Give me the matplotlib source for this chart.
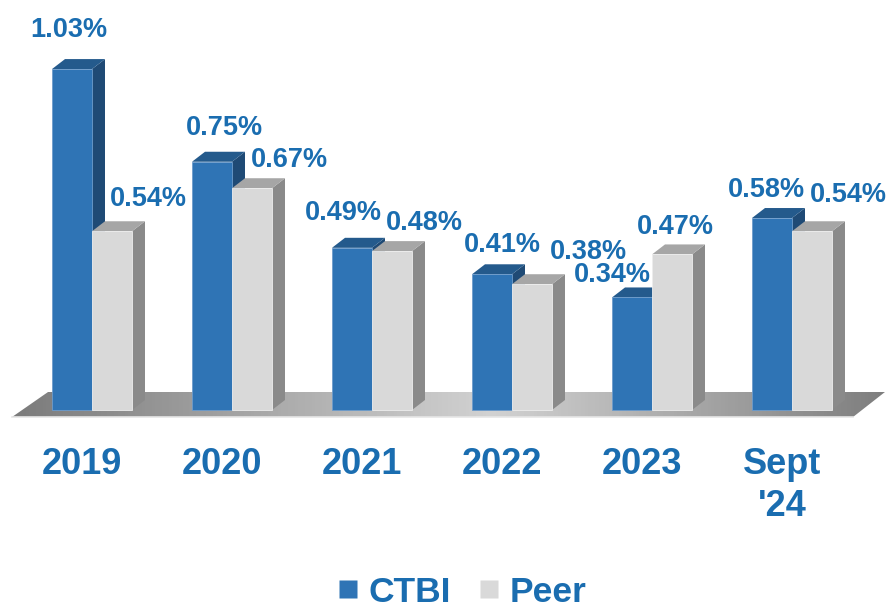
import matplotlib
matplotlib.use('Agg')
import matplotlib.pyplot as plt
import numpy as np
from matplotlib.patches import Polygon
from matplotlib.lines import Line2D
from matplotlib.colors import LinearSegmentedColormap

# ---------------- data ----------------
categories = ['2019', '2020', '2021', '2022', '2023', "Sept\n'24"]
ctbi = [1.03, 0.75, 0.49, 0.41, 0.34, 0.58]
peer = [0.54, 0.67, 0.48, 0.38, 0.47, 0.54]
series_names = ['CTBI', 'Peer']

# label nudges in pixels (dx, up) relative to top-back centre of each bar
ctbi_nudge = [(-10, 22), (6, 17), (-15, 18), (4, 12), (-26, 5), (-12, 11)]
peer_nudge = [(30, 15), (31, 11), (26, 11), (50, 15), (-3, 10), (30, 19)]

# ---------------- style ----------------
TXT = '#1A6DB0'
FONT = 'Liberation Sans'
ctbi_cols = dict(front='#2F74B5', top='#245A8C', side='#1F4A75', edge='#6E9CCB')
peer_cols = dict(front='#D9D9D9', top='#A6A6A6', side='#8A8A8A', edge='#EDEDED')

W, H, DPI = 893, 613, 100
fig = plt.figure(figsize=(W / DPI, H / DPI), dpi=DPI)
ax = fig.add_axes([0, 0, 1, 1])

# pixel geometry -> data scale
px_per_x = 140.0     # pixels per category step
px_per_y = 331.0     # pixels per 1.0 value
x0_px = 92.0         # pixel position of category 0 centre
base_px = 410.0      # pixel row (from top) of value 0
xlim = (-x0_px / px_per_x, (W - x0_px) / px_per_x)
ylim = (-(H - base_px) / px_per_y, base_px / px_per_y)

bw = 40 / px_per_x       # bar width
ddx = 13 / px_per_x      # depth offset x
ddy = 10 / px_per_y      # depth offset y

n = len(categories)
xs = np.arange(n)

# ---------------- floor ----------------
fy_front = -7 / px_per_y
fy_back = 18 / px_per_y
floor_pts = [(-0.571, fy_front), (n - 1 + 0.436, fy_front),
             (n - 1 + 0.664, fy_back), (-0.314, fy_back)]
floor = Polygon(floor_pts, closed=True, facecolor='none', edgecolor='none')
ax.add_patch(floor)
cmap = LinearSegmentedColormap.from_list(
    'floor', [(0, '#7B7B7B'), (0.55, '#D2D2D2'), (1, '#7E7E7E')])
grad = np.linspace(0, 1, 256).reshape(1, -1)
im = ax.imshow(grad, cmap=cmap, aspect='auto',
               extent=(-0.571, n - 1 + 0.664, fy_front, fy_back),
               origin='lower', zorder=1)
im.set_clip_path(floor)
ax.plot([-0.571, n - 1 + 0.436], [fy_front, fy_front], color='#E6E6E6', lw=1.2, zorder=1.5)


def draw_bar(x, h, cols, z):
    side = Polygon([(x + bw, 0), (x + bw + ddx, ddy), (x + bw + ddx, h + ddy), (x + bw, h)],
                   closed=True, facecolor=cols['side'], edgecolor='none', zorder=z)
    top = Polygon([(x, h), (x + bw, h), (x + bw + ddx, h + ddy), (x + ddx, h + ddy)],
                  closed=True, facecolor=cols['top'], edgecolor='none', zorder=z + 0.1)
    ax.add_patch(side)
    ax.add_patch(top)
    ax.bar(x, h, width=bw, align='edge', color=cols['front'],
           edgecolor=cols['edge'], linewidth=0.6, zorder=z + 0.2)


for i in range(n):
    z = 2 + i
    draw_bar(xs[i] - bw, ctbi[i], ctbi_cols, z)
    draw_bar(xs[i], peer[i], peer_cols, z + 0.5)

# ---------------- value labels ----------------
for i in range(n):
    for vals, nudges, xoff in ((ctbi, ctbi_nudge, -bw), (peer, peer_nudge, 0)):
        v = vals[i]
        ax.annotate(f'{v:.2f}%', xy=(xs[i] + xoff + bw / 2 + ddx / 2, v + ddy),
                    xytext=nudges[i], textcoords='offset pixels',
                    ha='center', va='baseline', fontsize=19.5, fontweight='bold',
                    color=TXT, family=FONT, zorder=20)

# ---------------- category labels ----------------
for i, c in enumerate(categories):
    ax.text(xs[i] - 10 / px_per_x, -37 / px_per_y, c, ha='center', va='top',
            fontsize=26, fontweight='bold', color=TXT, family=FONT,
            linespacing=1.25, multialignment='center')

ax.set_xlim(*xlim)
ax.set_ylim(*ylim)
ax.axis('off')

# ---------------- legend ----------------
handles = [Line2D([0], [0], marker='s', linestyle='none', markersize=13.5,
                  markerfacecolor=ctbi_cols['front'], markeredgecolor='none'),
           Line2D([0], [0], marker='s', linestyle='none', markersize=13.5,
                  markerfacecolor=peer_cols['front'], markeredgecolor='none')]
leg = fig.legend(handles, series_names, loc='center', ncol=2,
                 bbox_to_anchor=(462.5 / W, 21 / H), frameon=False,
                 handlelength=0.55, handletextpad=0.3, columnspacing=0.8,
                 prop=dict(family=FONT, weight='bold', size=25.5))
for t in leg.get_texts():
    t.set_color(TXT)

fig.savefig('out.png', dpi=DPI)
